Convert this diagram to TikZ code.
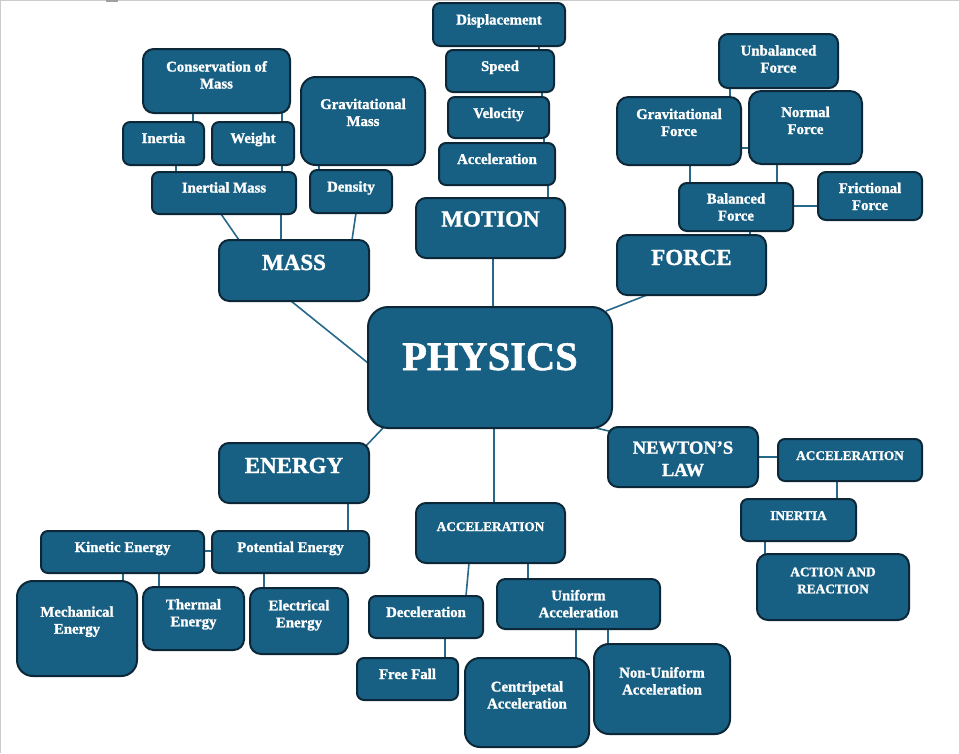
\documentclass[tikz,border=0pt]{standalone}
\usepackage{fontspec}
\setmainfont{Liberation Serif}[BoldFeatures={FakeBold=1.3}]
\usetikzlibrary{backgrounds}
\definecolor{boxfill}{RGB}{24,96,131}
\definecolor{boxedge}{RGB}{12,40,56}
\definecolor{linkcol}{RGB}{38,104,138}
\newcommand\fsm{\fontsize{14.8}{17}\selectfont\bfseries}
\newcommand\fcp{\fontsize{13.3}{17}\selectfont\bfseries}
\newcommand\fhd{\fontsize{23}{26}\selectfont\bfseries}
\newcommand\fnw{\fontsize{18.5}{22.3}\selectfont\bfseries}
\newcommand\fph{\fontsize{40.5}{44}\selectfont\bfseries}
\newcommand\bx[5]{%
  \pgfmathsetmacro\bxw{#4-#2}\pgfmathsetmacro\bxh{#5-#3}%
  \pgfmathsetmacro\bxr{0.1667*min(\bxw,\bxh)}%
  \node[box,rounded corners=\bxr pt,minimum width=\bxw pt,minimum height=\bxh pt] (#1) at ({(#2+#4)/2},{(#3+#5)/2}) {};}
% #2 = baseline of the LAST line below the box top
\newcommand\tx[4]{\node[txt,font=#3] at ([yshift=-#2pt]#1.north) {#4};}
\tikzset{
  box/.style={draw=boxedge,fill=boxfill,line width=2pt,inner sep=0pt,outer sep=0pt},
  txt/.style={text=white,anchor=base,align=center,inner sep=0pt},
  link/.style={draw=linkcol,line width=1.6pt}
}
\begin{document}
\begin{tikzpicture}[x=1pt,y=-1pt]
\useasboundingbox (0,0) rectangle (959,753);
% boxes
\bx{cons}{143}{49}{290}{113}
\bx{inertiaM}{123}{122}{204}{165}
\bx{weight}{212}{122}{294}{165}
\bx{gmass}{301}{77}{425}{165}
\bx{imass}{152}{172}{296}{214}
\bx{density}{310}{170}{392}{213}
\bx{mass}{219}{240}{369}{301}
\bx{disp}{433}{3}{565}{46}
\bx{speed}{446}{50}{554}{92}
\bx{velocity}{448}{97}{549}{138}
\bx{accM}{439}{143}{555}{185}
\bx{motion}{416}{198}{565}{258}
\bx{unbal}{719}{34}{838}{88}
\bx{gforce}{617}{97}{741}{165}
\bx{normal}{749}{91}{862}{164}
\bx{balanced}{679}{183}{793}{231}
\bx{friction}{818}{172}{922}{220}
\bx{force}{617}{235}{766}{295}
\bx{physics}{368}{307}{612}{428}
\bx{energy}{219}{443}{369}{503}
\bx{kinetic}{41}{531}{204}{573}
\bx{potential}{212}{531}{369}{573}
\bx{mech}{17}{581}{137}{676}
\bx{thermal}{143}{587}{244}{650}
\bx{electrical}{250}{588}{348}{654}
\bx{accC}{416}{503}{565}{563}
\bx{decel}{369}{596}{483}{638}
\bx{freefall}{357}{658}{458}{700}
\bx{uniform}{497}{579}{660}{629}
\bx{centri}{465}{658}{589}{747}
\bx{nonuni}{594}{644}{730}{734}
\bx{newton}{608}{427}{758}{487}
\bx{accN}{778}{439}{922}{481}
\bx{inertiaN}{741}{499}{856}{541}
\bx{action}{757}{554}{909}{620}
% texts
\tx{cons}{39.5}{\fsm}{Conservation of\\Mass}
\tx{inertiaM}{21}{\fsm}{Inertia}
\tx{weight}{21}{\fsm}{Weight}
\tx{gmass}{49}{\fsm}{Gravitational\\Mass}
\tx{imass}{20.5}{\fsm}{Inertial Mass}
\tx{density}{21.5}{\fsm}{Density}
\tx{mass}{30}{\fhd}{MASS}
\tx{disp}{21.5}{\fsm}{Displacement}
\tx{speed}{21}{\fsm}{Speed}
\tx{velocity}{21}{\fsm}{Velocity}
\tx{accM}{21}{\fsm}{Acceleration}
\tx{motion}{28.5}{\fhd}{MOTION}
\tx{unbal}{38.5}{\fsm}{Unbalanced\\Force}
\tx{gforce}{39}{\fsm}{Gravitational\\Force}
\tx{normal}{43}{\fsm}{Normal\\Force}
\tx{balanced}{37.5}{\fsm}{Balanced\\Force}
\tx{friction}{38}{\fsm}{Frictional\\Force}
\tx{force}{30}{\fhd}{FORCE}
\tx{physics}{63}{\fph}{PHYSICS}
\tx{energy}{30}{\fhd}{ENERGY}
\tx{kinetic}{21}{\fsm}{Kinetic Energy}
\tx{potential}{21}{\fsm}{Potential Energy}
\tx{mech}{52.7}{\fsm}{Mechanical\\Energy}
\tx{thermal}{39.3}{\fsm}{Thermal\\Energy}
\tx{electrical}{39.3}{\fsm}{Electrical\\Energy}
\tx{accC}{28}{\fcp}{ACCELERATION}
\tx{decel}{21}{\fsm}{Deceleration}
\tx{freefall}{21}{\fsm}{Free Fall}
\tx{uniform}{38.3}{\fsm}{Uniform\\Acceleration}
\tx{centri}{50.5}{\fsm}{Centripetal\\Acceleration}
\tx{nonuni}{50.5}{\fsm}{Non-Uniform\\Acceleration}
\tx{newton}{49}{\fnw}{NEWTON’S\\LAW}
\tx{accN}{21}{\fcp}{ACCELERATION}
\tx{inertiaN}{21}{\fcp}{INERTIA}
\tx{action}{39.3}{\fcp}{ACTION AND\\REACTION}
% connectors
\begin{pgfonlayer}{background}
\fill[white] (0,0) rectangle (959,753);
\draw[gray!40,line width=1.3pt] (0.65,753) -- (0.65,0.65) -- (959,0.65);
\fill[gray!75] (106,0) rectangle (118,1.6);
\draw[link] (cons.south -| 193,0) -- (inertiaM.north -| 193,0);
\draw[link] (cons.south -| 282,0) -- (weight.north -| 282,0);
\draw[link] (inertiaM.south -| 176,0) -- (imass.north -| 176,0);
\draw[link] (weight.south -| 282,0) -- (imass.north -| 282,0);
\draw[link] (gmass.south -| 319,0) -- (density.north -| 319,0);
\draw[link] (imass.south -| 221,0) -- (mass.north -| 239,0);
\draw[link] (imass.south -| 281,0) -- (mass.north -| 281,0);
\draw[link] (density.south -| 356,0) -- (mass.north -| 352,0);
\draw[link] (mass.south -| 291,0) -- (physics.west |- 0,363);
\draw[link] (disp.south -| 539,0) -- (speed.north -| 539,0);
\draw[link] (speed.south -| 542,0) -- (velocity.north -| 542,0);
\draw[link] (velocity.south -| 544,0) -- (accM.north -| 544,0);
\draw[link] (accM.south -| 548,0) -- (motion.north -| 548,0);
\draw[link] (motion.south -| 493,0) -- (physics.north -| 493,0);
\draw[link] (unbal.south -| 730,0) -- (gforce.north -| 730,0);
\draw[link] (gforce.east |- 0,148) -- (normal.west |- 0,148);
\draw[link] (gforce.south -| 690,0) -- (balanced.north -| 690,0);
\draw[link] (normal.south -| 777,0) -- (balanced.north -| 777,0);
\draw[link] (balanced.east |- 0,206) -- (friction.west |- 0,206);
\draw[link] (balanced.south -| 750,0) -- (force.north -| 750,0);
\draw[link] (force.south -| 647,0) -- ([xshift=-6pt,yshift=-4pt]physics.north east);
\draw[link] (physics.south -| 383,0) -- ([xshift=-5pt,yshift=-5pt]energy.north east);
\draw[link] (physics.south -| 494,0) -- (accC.north -| 494,0);
\draw[link] (physics.south -| 596,0) -- ([xshift=5pt,yshift=-5pt]newton.north west);
\draw[link] (energy.south -| 348,0) -- (potential.north -| 348,0);
\draw[link] (kinetic.east |- 0,551) -- (potential.west |- 0,551);
\draw[link] (kinetic.south -| 123,0) -- (mech.north -| 123,0);
\draw[link] (kinetic.south -| 159,0) -- (thermal.north -| 159,0);
\draw[link] (potential.south -| 264,0) -- (electrical.north -| 264,0);
\draw[link] (accC.south -| 469,0) -- (decel.north -| 466,0);
\draw[link] (accC.south -| 528,0) -- (uniform.north -| 528,0);
\draw[link] (decel.south -| 445,0) -- (freefall.north -| 445,0);
\draw[link] (uniform.south -| 576,0) -- (centri.north -| 576,0);
\draw[link] (uniform.south -| 608,0) -- (nonuni.north -| 608,0);
\draw[link] (newton.east |- 0,457) -- (accN.west |- 0,457);
\draw[link] (accN.south -| 837,0) -- (inertiaN.north -| 837,0);
\draw[link] (inertiaN.south -| 765,0) -- (action.north -| 765,0);
\end{pgfonlayer}
\end{tikzpicture}
\end{document}
